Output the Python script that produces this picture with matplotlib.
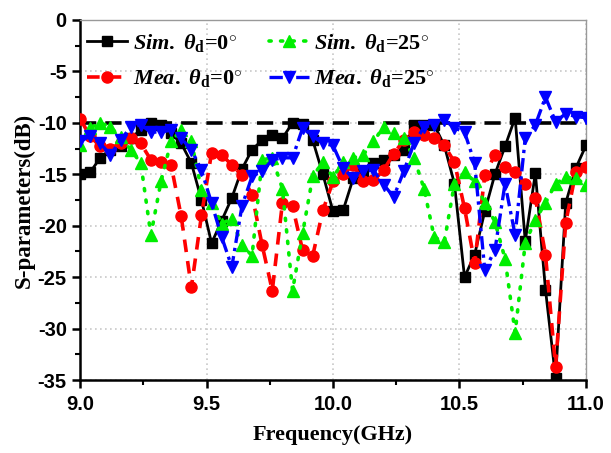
import numpy as np
import matplotlib
matplotlib.use("Agg")
import matplotlib.pyplot as plt
from matplotlib.ticker import MultipleLocator

# Frequency grid (GHz), shared by all four curves
freq = [9.00, 9.04, 9.08, 9.12, 9.16, 9.20, 9.24, 9.28, 9.32, 9.36,
        9.40, 9.44, 9.48, 9.52, 9.56, 9.60, 9.64, 9.68, 9.72, 9.76,
        9.80, 9.84, 9.88, 9.92, 9.96, 10.00, 10.04, 10.08, 10.12, 10.16,
        10.20, 10.24, 10.28, 10.32, 10.36, 10.40, 10.44, 10.48, 10.52, 10.56,
        10.60, 10.64, 10.68, 10.72, 10.76, 10.80, 10.84, 10.88, 10.92, 10.96,
        11.00]

# Simulated, theta_d = 0 deg
sim_0 = [-15.0, -14.8, -13.4, -12.6, -12.3, -11.5, -10.7, -10.0, -10.2, -11.0,
         -12.0, -13.9, -17.5, -21.7, -19.5, -17.3, -14.5, -12.6, -11.7, -11.2,
         -11.5, -10.0, -10.1, -11.7, -15.0, -18.6, -18.5, -15.4, -14.7, -13.9,
         -13.6, -13.1, -12.6, -10.2, -10.2, -10.2, -12.2, -15.9, -25.0, -22.8,
         -18.6, -15.0, -12.3, -9.5, -21.5, -14.9, -26.2, -34.8, -17.8, -14.4,
         -12.2]

# Measured, theta_d = 0 deg
mea_0 = [-9.6, -11.3, -12.3, -12.5, -12.0, -11.5, -12.0, -13.6, -13.8, -14.1,
         -19.1, -26.0, -19.0, -12.9, -13.1, -14.1, -15.1, -17.0, -21.9, -26.3,
         -17.8, -18.1, -22.4, -22.9, -18.5, -15.7, -15.0, -14.1, -15.7, -15.6,
         -14.6, -13.0, -11.7, -10.9, -11.2, -11.5, -12.2, -13.8, -18.3, -23.6,
         -15.1, -13.1, -14.3, -14.8, -15.9, -17.3, -22.8, -33.7, -19.7, -14.8,
         -14.3]

# Simulated, theta_d = 25 deg
sim_25 = [-12.2, -10.5, -10.0, -10.4, -11.4, -12.6, -13.9, -20.9, -15.7, -11.8,
          -10.7, -11.8, -16.5, -17.8, -19.8, -19.3, -21.9, -22.9, -13.6, -13.4,
          -16.4, -26.3, -20.7, -15.2, -13.8, -15.3, -13.8, -13.4, -13.1, -11.8,
          -10.4, -11.0, -11.5, -13.4, -16.4, -21.1, -21.6, -15.9, -14.8, -15.7,
          -17.8, -19.6, -23.2, -30.4, -21.7, -19.4, -17.8, -15.9, -15.3, -15.4,
          -16.0]

# Measured, theta_d = 25 deg
mea_25 = [-11.8, -11.3, -12.0, -13.1, -11.7, -10.4, -10.2, -10.9, -10.9, -10.7,
          -11.5, -12.6, -14.6, -17.8, -21.1, -24.0, -18.1, -15.2, -14.7, -13.6,
          -13.4, -13.4, -10.5, -11.3, -12.0, -12.2, -14.4, -15.4, -14.7, -14.6,
          -16.0, -17.2, -14.7, -12.0, -10.4, -10.2, -9.7, -10.5, -10.9, -13.9,
          -24.3, -22.4, -15.9, -20.9, -11.5, -10.2, -7.5, -9.9, -9.1, -9.4,
          -9.5]

ref_level = -10

labels = [r'$\it{Sim.}$ $\theta_{\rm d}$=0$^{\circ}$',
          r'$\it{Mea.}$ $\theta_{\rm d}$=0$^{\circ}$',
          r'$\it{Sim.}$ $\theta_{\rm d}$=25$^{\circ}$',
          r'$\it{Mea.}$ $\theta_{\rm d}$=25$^{\circ}$']

plt.rcParams['axes.unicode_minus'] = False
plt.rcParams['mathtext.fontset'] = 'custom'
plt.rcParams['mathtext.rm'] = 'Liberation Serif:bold'
plt.rcParams['mathtext.it'] = 'Liberation Serif:bold:italic'
plt.rcParams['mathtext.bf'] = 'Liberation Serif:bold'

fig = plt.figure(figsize=(6.11, 4.53), dpi=100)
ax = fig.add_axes([0.131, 0.161, 0.828, 0.795])

# -10 dB reference line
ax.axhline(ref_level, color='black', lw=2.6, ls=(0, (4.5, 2.5)), zorder=2)

l1, = ax.plot(freq, sim_0, color='black', lw=2.0, marker='s', ms=6.5,
              zorder=3)
l2, = ax.plot(freq, mea_0, color='#ff0000', lw=2.6, ls=(0, (3.5, 2.5)),
              marker='o', ms=8, zorder=3)
l3, = ax.plot(freq, sim_25, color='#00ee00', lw=2.6, ls=(0, (0.6, 2.6)),
              dash_capstyle='round', marker='^', ms=8.5, zorder=3)
l4, = ax.plot(freq, mea_25, color='#0000ff', lw=2.4,
              ls=(0, (4, 1.5, 1, 1.5)), marker='v', ms=8.5, zorder=3)

ax.set_xlim(9.0, 11.0)
ax.set_ylim(-35, 0)
ax.xaxis.set_major_locator(MultipleLocator(0.5))
ax.xaxis.set_minor_locator(MultipleLocator(0.25))
ax.yaxis.set_major_locator(MultipleLocator(5))
ax.yaxis.set_minor_locator(MultipleLocator(2.5))
ax.xaxis.set_major_formatter(plt.FormatStrFormatter('%.1f'))

ax.grid(True, which='major', color='#c8c8c8', ls=(0, (1, 2)), lw=1.2)
ax.set_axisbelow(True)

for side in ['top', 'right']:
    ax.spines[side].set_color('#999999')
    ax.spines[side].set_linewidth(1.0)
for side in ['left', 'bottom']:
    ax.spines[side].set_color('black')
    ax.spines[side].set_linewidth(1.8)

ax.tick_params(which='major', direction='out', length=6, width=1.8,
               labelsize=14.5, top=False, right=False)
ax.tick_params(axis='x', which='major', pad=5)
ax.tick_params(which='minor', direction='out', length=3.5, width=1.5,
               top=False, right=False)
for lab in ax.get_xticklabels() + ax.get_yticklabels():
    lab.set_fontfamily('Liberation Sans')
    lab.set_fontweight('bold')

ax.set_xlabel('Frequency(GHz)', fontsize=16, fontweight='bold',
              fontfamily='Liberation Serif', labelpad=8)
ax.set_ylabel('S-parameters(dB)', fontsize=16.5, fontweight='bold',
              fontfamily='Liberation Serif', labelpad=2)

ax.legend([l1, l2, l3, l4], labels, loc='upper left', ncol=2,
          frameon=False, handlelength=1.8, columnspacing=1.2,
          labelspacing=0.6, borderaxespad=0.15, handletextpad=0.25,
          bbox_to_anchor=(-0.01, 1.0),
          prop={'family': 'Liberation Serif', 'weight': 'bold', 'size': 16})

fig.savefig('out.png', dpi=100)
